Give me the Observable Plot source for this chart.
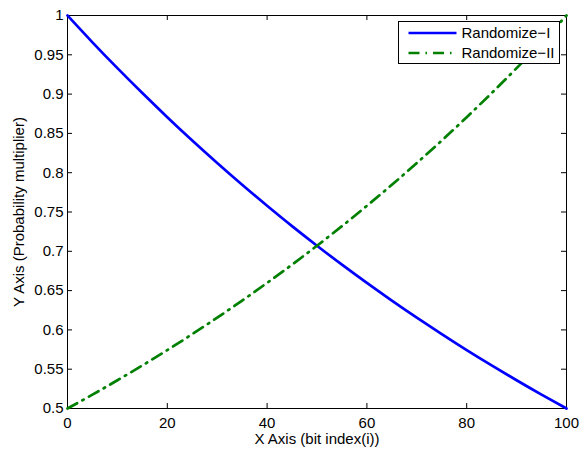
<!DOCTYPE html>
<html><head><meta charset="utf-8">
<script src="https://cdn.jsdelivr.net/npm/d3@7"></script>
<script src="https://cdn.jsdelivr.net/npm/@observablehq/plot@0.6"></script>
<style>body{margin:0;background:#fff;} svg{font-family:"Liberation Sans",Arial,sans-serif;}</style>
</head><body><div id="chart"></div>
<script>
const xs = [0,5,10,15,20,25,30,35,40,45,50,55,60,65,70,75,80,85,90,95,100];
const randI = [1,0.9659,0.9330,0.9013,0.8706,0.8409,0.8123,0.7846,0.7579,0.7320,0.7071,0.6830,0.6598,0.6373,0.6156,0.5946,0.5743,0.5548,0.5359,0.5176,0.5];
const randII = [0.5,0.5176,0.5359,0.5548,0.5743,0.5946,0.6156,0.6373,0.6598,0.6830,0.7071,0.7320,0.7579,0.7846,0.8123,0.8409,0.8706,0.9013,0.9330,0.9659,1];
const xTicks = [0,20,40,60,80,100];
const yTicks = [0.5,0.55,0.6,0.65,0.7,0.75,0.8,0.85,0.9,0.95,1];
const seriesNames = ["Randomize\u2212I","Randomize\u2212II"];
const seriesColors = ["#0000ff","#008000"];
const dashes = [null,"11,6,1.5,6"];

const dataI = xs.map((x,i)=>({x,y:randI[i]}));
const dataII = xs.map((x,i)=>({x,y:randII[i]}));
const fmt = d => String(+d.toFixed(2));

const W = 579, H = 452, mL = 67, mR = 13, mT = 15, mB = 44;
const pw = W - mL - mR, ph = H - mT - mB, tk = 5, FS = 15;

const plot = Plot.plot({
  width: W, height: H,
  marginLeft: mL, marginRight: mR, marginTop: mT, marginBottom: mB,
  style: {fontFamily: '"Liberation Sans",Arial,sans-serif', fontSize: FS + "px", color: "#000", background: "#fff"},
  x: {domain: [0,100]},
  y: {domain: [0.5,1]},
  marks: [
    Plot.axisX(xTicks, {anchor: "bottom", tickSize: 0, tickPadding: 9, tickFormat: fmt, label: null, fontSize: FS}),
    Plot.axisY(yTicks, {anchor: "left", tickSize: 0, tickPadding: 4, tickFormat: fmt, label: null, fontSize: FS}),
    Plot.tickX(xTicks, {x: d => d, stroke: "#000", insetTop: ph - tk}),
    Plot.tickX(xTicks, {x: d => d, stroke: "#000", insetBottom: ph - tk}),
    Plot.tickY(yTicks, {y: d => d, stroke: "#000", insetRight: pw - tk}),
    Plot.tickY(yTicks, {y: d => d, stroke: "#000", insetLeft: pw - tk}),
    Plot.frame({stroke: "#000", strokeWidth: 1}),
    Plot.line(dataI, {x: "x", y: "y", stroke: seriesColors[0], strokeWidth: 2.7, curve: "natural"}),
    Plot.line(dataII, {x: "x", y: "y", stroke: seriesColors[1], strokeWidth: 2.7, strokeDasharray: dashes[1], curve: "natural"})
  ]
});
document.getElementById("chart").appendChild(plot);

const svg = d3.select(plot);
svg.append("text").attr("x", 317).attr("y", 444).attr("text-anchor","middle")
  .attr("font-size", FS).attr("fill","#000").text("X Axis (bit index(i))");
svg.append("text").attr("transform","translate(24,212) rotate(-90)").attr("text-anchor","middle")
  .attr("font-size", FS).attr("fill","#000").text("Y Axis (Probability multiplier)");

const lg = svg.append("g").attr("transform","translate(398.5,21.5)");
lg.append("rect").attr("width",161).attr("height",42).attr("fill","#fff").attr("stroke","#000").attr("stroke-width",1);
seriesNames.forEach((n,i)=>{
  const yy = 11.5 + i*20;
  lg.append("line").attr("x1",10).attr("x2",58).attr("y1",yy).attr("y2",yy)
    .attr("stroke",seriesColors[i]).attr("stroke-width",2.7).attr("stroke-dasharray",dashes[i]);
  lg.append("text").attr("x",63).attr("y",yy).attr("dy","0.35em").attr("text-anchor","start")
    .attr("font-size",FS).attr("fill","#000").text(n);
});
</script></body></html>
